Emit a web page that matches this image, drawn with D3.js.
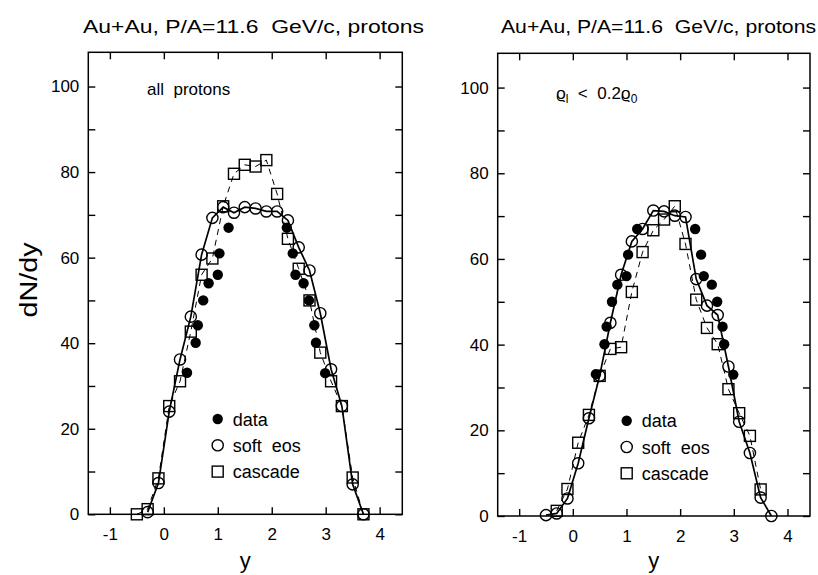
<!DOCTYPE html>
<html><head><meta charset="utf-8">
<script src="https://cdn.jsdelivr.net/npm/d3@7"></script>
<style>
body{margin:0;background:#fff}
text{font-family:"Liberation Sans",Arial,sans-serif;fill:#000;white-space:pre}
</style>
</head><body><svg id="c" width="818" height="575"></svg>
<script>
// ---------- data ----------
const titles = ["Au+Au, P/A=11.6  GeV/c, protons", "Au+Au, P/A=11.6  GeV/c, protons"];
const xTicks = [-1, 0, 1, 2, 3, 4];
const yTicks = [0, 10, 20, 30, 40, 50, 60, 70, 80, 90, 100];
const yLabelTicks = [0, 20, 40, 60, 80, 100];
const legendLabels = ["data", "soft  eos", "cascade"];
const xTitle = "y";
const yTitle = "dN/dy";

// measured data (same in both panels)
const dataRap  = [0.43, 0.59, 0.63, 0.73, 0.83, 1.00, 1.03, 1.20, 2.28, 2.39, 2.44, 2.59, 2.69, 2.79, 2.82, 2.99];
const dataDNdy = [33.1, 40.1, 44.2, 50.0, 54.0, 56.0, 61.0, 67.0, 67.0, 61.0, 56.0, 54.0, 50.0, 44.2, 40.1, 33.0];

// left panel: all protons
const softRapL  = [-0.3, -0.1, 0.1, 0.3, 0.5, 0.7, 0.9, 1.1, 1.3, 1.5, 1.7, 1.9, 2.1, 2.3, 2.5, 2.7, 2.9, 3.1, 3.3, 3.5, 3.7];
const softDNdyL = [0.5, 7.3, 24.0, 36.2, 46.2, 60.7, 69.3, 71.8, 70.5, 71.8, 71.5, 70.8, 70.8, 68.7, 62.4, 57.0, 47.0, 33.9, 25.3, 7.0, 0.0];
const cascRapL  = [-0.5, -0.3, -0.1, 0.1, 0.3, 0.5, 0.7, 0.9, 1.1, 1.3, 1.5, 1.7, 1.9, 2.1, 2.3, 2.5, 2.7, 2.9, 3.1, 3.3, 3.5, 3.7];
const cascDNdyL = [0.0, 1.2, 8.4, 25.3, 31.1, 42.7, 56.0, 59.8, 72.0, 79.6, 81.7, 81.3, 82.8, 74.9, 64.4, 57.4, 50.0, 37.8, 31.1, 25.3, 8.6, 0.0];

// right panel: rho_l < 0.2 rho_0
const softRapR  = [-0.5, -0.3, -0.1, 0.1, 0.3, 0.5, 0.7, 0.9, 1.1, 1.3, 1.5, 1.7, 1.9, 2.1, 2.3, 2.5, 2.7, 2.9, 3.1, 3.3, 3.5, 3.7];
const softDNdyR = [0.2, 0.6, 4.1, 12.3, 22.8, 32.7, 45.1, 56.3, 64.1, 67.0, 71.3, 71.1, 70.1, 69.8, 55.3, 49.1, 46.9, 34.9, 22.0, 14.7, 4.3, 0.0];
const cascRapR  = [-0.3, -0.1, 0.1, 0.3, 0.5, 0.7, 0.9, 1.1, 1.3, 1.5, 1.7, 1.9, 2.1, 2.3, 2.5, 2.7, 2.9, 3.1, 3.3, 3.5];
const cascDNdyR = [1.2, 6.3, 17.1, 23.6, 32.7, 39.0, 39.4, 52.3, 61.6, 66.7, 69.2, 72.3, 63.5, 50.5, 43.9, 40.1, 29.6, 24.0, 18.7, 6.2];

const zip = (a, b) => a.map((v, i) => [v, b[i]]);

const svg = d3.select("#c");

function panel(cfg) {
  const x = d3.scaleLinear().domain([-1.4, 4.42]).range([cfg.x0, cfg.x1]);
  const y = d3.scaleLinear().domain([0, 108]).range([cfg.y0, cfg.y1]);
  const g = svg.append("g");

  // frame
  g.append("rect").attr("x", cfg.x0).attr("y", cfg.y1)
    .attr("width", cfg.x1 - cfg.x0).attr("height", cfg.y0 - cfg.y1)
    .attr("fill", "none").attr("stroke", "#000").attr("stroke-width", 1.5);

  const styleAxis = sel => {
    sel.select(".domain").remove();
    sel.selectAll(".tick line").attr("stroke", "#000").attr("stroke-width", 1.4);
    sel.selectAll("text").attr("font-size", 17).attr("fill", "#000")
      .style("font-family", '"Liberation Sans",Arial,sans-serif');
  };
  g.append("g").attr("transform", `translate(0,${cfg.y0})`)
    .call(d3.axisBottom(x).tickValues(xTicks).tickSize(-7).tickPadding(14).tickFormat(d => String(d)))
    .call(styleAxis);
  g.append("g").attr("transform", `translate(0,${cfg.y1})`)
    .call(d3.axisTop(x).tickValues(xTicks).tickSize(-7).tickFormat(""))
    .call(styleAxis);
  g.append("g").attr("transform", `translate(${cfg.x0},0)`)
    .call(d3.axisLeft(y).tickValues(yTicks).tickSize(-7).tickPadding(9)
      .tickFormat(d => yLabelTicks.includes(d) ? String(d) : ""))
    .call(styleAxis);
  g.append("g").attr("transform", `translate(${cfg.x1},0)`)
    .call(d3.axisRight(y).tickValues(yTicks).tickSize(-7).tickFormat(""))
    .call(styleAxis);

  // lines
  const line = d3.line().x(d => x(d[0])).y(d => y(d[1]));
  g.append("path").datum(zip(cfg.cascRap, cfg.cascVal)).attr("d", line)
    .attr("fill", "none").attr("stroke", "#000").attr("stroke-width", 1)
    .attr("stroke-dasharray", "6,5");
  g.append("path").datum(zip(cfg.softRap, cfg.softVal)).attr("d", line)
    .attr("fill", "none").attr("stroke", "#000").attr("stroke-width", 1.7);

  // markers
  const s = 11;
  g.selectAll(".sq").data(zip(cfg.cascRap, cfg.cascVal)).join("rect")
    .attr("x", d => x(d[0]) - s / 2).attr("y", d => y(d[1]) - s / 2)
    .attr("width", s).attr("height", s)
    .attr("fill", "none").attr("stroke", "#000").attr("stroke-width", 1.4);
  g.selectAll(".oc").data(zip(cfg.softRap, cfg.softVal)).join("circle")
    .attr("cx", d => x(d[0])).attr("cy", d => y(d[1])).attr("r", 5.6)
    .attr("fill", "none").attr("stroke", "#000").attr("stroke-width", 1.4);
  g.selectAll(".fc").data(zip(dataRap, dataDNdy)).join("circle")
    .attr("cx", d => x(d[0])).attr("cy", d => y(d[1])).attr("r", 5.2)
    .attr("fill", "#000");

  // title
  g.append("text").attr("x", cfg.titleX).attr("y", 33).attr("font-size", 19)
    .attr("textLength", cfg.titleLen).attr("lengthAdjust", "spacingAndGlyphs")
    .text(cfg.title);
  // axis titles
  g.append("text").attr("x", (cfg.x0 + cfg.x1) / 2).attr("y", 568)
    .attr("text-anchor", "middle").attr("font-size", 22).text(xTitle);

  // legend
  const lx = cfg.legX, ly = cfg.legY, dy = 26.3;
  g.append("circle").attr("cx", lx).attr("cy", ly).attr("r", 5.2).attr("fill", "#000");
  g.append("circle").attr("cx", lx).attr("cy", ly + dy).attr("r", 5.6)
    .attr("fill", "none").attr("stroke", "#000").attr("stroke-width", 1.4);
  g.append("rect").attr("x", lx - s / 2).attr("y", ly + 2 * dy - s / 2).attr("width", s).attr("height", s)
    .attr("fill", "none").attr("stroke", "#000").attr("stroke-width", 1.4);
  legendLabels.forEach((t, i) => {
    g.append("text").attr("x", lx + 15).attr("y", ly + i * dy + 6.5).attr("font-size", 18).text(t);
  });
  return g;
}

const gL = panel({x0: 88.3, x1: 402.3, y0: 514.3, y1: 52.3, title: titles[0], titleX: 83, titleLen: 341,
  softRap: softRapL, softVal: softDNdyL, cascRap: cascRapL, cascVal: cascDNdyL, legX: 217.7, legY: 419});
const gR = panel({x0: 497.7, x1: 810, y0: 516, y1: 53.3, title: titles[1], titleX: 501, titleLen: 315,
  softRap: softRapR, softVal: softDNdyR, cascRap: cascRapR, cascVal: cascDNdyR, legX: 626.7, legY: 420.7});

// annotations
gL.append("text").attr("x", 147).attr("y", 95).attr("font-size", 17).text("all  protons");
const ann = gR.append("text").attr("x", 556).attr("y", 99).attr("font-size", 17);
ann.append("tspan").text("ϱ");
ann.append("tspan").attr("font-size", 12).attr("dy", 4).text("l");
ann.append("tspan").attr("dy", -4).text("  <  0.2ϱ");
ann.append("tspan").attr("font-size", 12).attr("dy", 4).text("0");

// y-axis title
svg.append("text").attr("transform", "translate(37,280) rotate(-90)")
  .attr("text-anchor", "middle").attr("font-size", 23)
  .attr("textLength", 75).attr("lengthAdjust", "spacingAndGlyphs").text(yTitle);
</script>
</body></html>
